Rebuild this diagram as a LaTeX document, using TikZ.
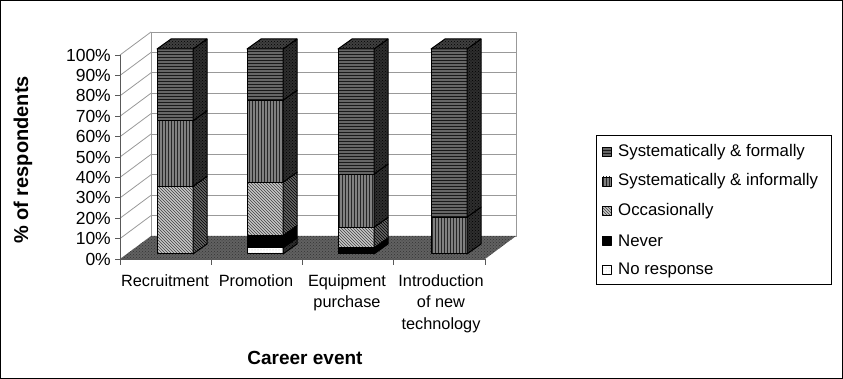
\documentclass[tikz,border=0pt]{standalone}
\usepackage{fontspec}
\setmainfont{Liberation Sans}
\usepackage{xcolor}
\usepackage{tikz}
\usetikzlibrary{patterns}

\tikzset{
  gridline/.style={draw=black!40, line width=0.8pt},
  axisline/.style={draw=black!65, line width=0.9pt},
  floor/.style={preaction={fill=black!62}, pattern=crosshatch dots, pattern color=black!80},
  formal/.style={preaction={fill=black!60}, pattern=horizontal lines, pattern color=black!90},
  informal/.style={preaction={fill=black!50}, pattern=vertical lines, pattern color=black!85},
  occas/.style={preaction={fill=black!22}, pattern=north west lines, pattern color=black!75},
  never/.style={fill=black},
  noresp/.style={preaction={fill=white}, pattern=dots, pattern color=black!25},
  darkside/.style={preaction={fill=black!82}, pattern=crosshatch dots, pattern color=black},
  occasside/.style={preaction={fill=black!60}, pattern=north west lines, pattern color=black},
  topface/.style={preaction={fill=black!75}, pattern=crosshatch dots, pattern color=black},
  seg/.style={draw=black, line width=1pt, line join=round},
  ticklabel/.style={anchor=east, inner sep=0pt, font=\fontsize{17.5}{20}\selectfont},
  catlabel/.style={anchor=north, inner sep=0pt, align=center, font=\fontsize{16.3}{21.5}\selectfont},
  legendtext/.style={anchor=west, inner sep=0pt, font=\fontsize{16.8}{20}\selectfont}
}

% one piece of a bar: left x, bottom %, top %, front style, side style
\newcommand{\barseg}[5]{%
  \path[seg, #4] (#1,{254-2.05*#2}) rectangle ({#1+36},{254-2.05*#3});
  \path[seg, #5] ({#1+36},{254-2.05*#2}) -- ++(14,-10) -- ++(0,{-2.05*(#3-#2)}) -- ++(-14,10) -- cycle;
}
% lid of a bar
\newcommand{\bartop}[1]{%
  \path[seg, topface] (#1,49) -- ++(14,-10) -- ++(36,0) -- ++(-14,10) -- cycle;
}

\begin{document}
\begin{tikzpicture}[x=1pt, y=-1pt]
    \useasboundingbox (0,0) rectangle (843,379);
    \draw[line width=0.8pt] (0.5,0.5) rectangle (842.5,378.5);

    % Walls and floor
    \draw[gridline] (151,32) rectangle (516,236);
    \foreach \k in {1,...,9}
        \draw[gridline] (151,{236-20.4*\k}) -- (516,{236-20.4*\k});
    \foreach \k in {1,...,10}
        \draw[gridline] (120,{259-20.4*\k}) -- ++(31,-23);
    \path[floor] (120,259) -- (485,259) -- (516,236) -- (151,236) -- cycle;

    % Axes
    \draw[axisline] (120,55) -- (120,259) -- (485,259);
    \foreach \k in {0,...,10} {
        \draw[axisline] (115,{259-20.4*\k}) -- (120,{259-20.4*\k});
        \pgfmathtruncatemacro{\pct}{10*\k}
        \node[ticklabel] (tick\k) at (111,{259-20.4*\k}) {\pct\%};
    }
    \foreach \x in {120,211.25,302.5,393.75,485}
        \draw[axisline] (\x,259) -- (\x,265);

    % Recruitment
    \barseg{157}{0}{33}{occas}{occasside}
    \barseg{157}{33}{65}{informal}{darkside}
    \barseg{157}{65}{100}{formal}{darkside}
    \bartop{157}
    % Promotion
    \barseg{247}{0}{3}{noresp}{darkside}
    \barseg{247}{3}{9}{never}{never}
    \barseg{247}{9}{35}{occas}{occasside}
    \barseg{247}{35}{75}{informal}{darkside}
    \barseg{247}{75}{100}{formal}{darkside}
    \bartop{247}
    % Equipment purchase
    \barseg{338}{0}{3}{never}{never}
    \barseg{338}{3}{13}{occas}{occasside}
    \barseg{338}{13}{39}{informal}{darkside}
    \barseg{338}{39}{100}{formal}{darkside}
    \bartop{338}
    % Introduction of new technology
    \barseg{431}{0}{18}{informal}{darkside}
    \barseg{431}{18}{100}{formal}{darkside}
    \bartop{431}

    % Category labels
    \node[catlabel] (recruit) at (165,274) {Recruitment};
    \node[catlabel] (promo) at (256,274) {Promotion};
    \node[catlabel] (equip) at (347,274) {Equipment\\purchase};
    \node[catlabel] (intro) at (441,274) {Introduction\\of new\\technology};

    % Axis titles
    \node[font=\fontsize{19}{21}\selectfont\bfseries] (xtitle) at (305,358) {Career event};
    \node[font=\fontsize{20}{22}\selectfont\bfseries, rotate=90] (ytitle) at (23,160) {\% of respondents};

    % Legend
    \draw[line width=0.8pt] (596,135) rectangle (831,284);
    \path[seg, line width=0.7pt, formal] (602,147.5) rectangle (611,156.5);
    \path[seg, line width=0.7pt, informal] (602,177) rectangle (611,186);
    \path[seg, line width=0.7pt, occas] (602,206.5) rectangle (611,215.5);
    \path[seg, line width=0.7pt, never] (602,236) rectangle (611,245);
    \path[seg, line width=0.7pt, noresp] (602,265.5) rectangle (611,274.5);
    \node[legendtext] (lformal) at (618,152) {Systematically \& formally};
    \node[legendtext] (linformal) at (618,181.5) {Systematically \& informally};
    \node[legendtext] (loccas) at (618,211) {Occasionally};
    \node[legendtext] (lnever) at (618,240.5) {Never};
    \node[legendtext] (lnoresp) at (618,270) {No response};
\end{tikzpicture}
\end{document}
